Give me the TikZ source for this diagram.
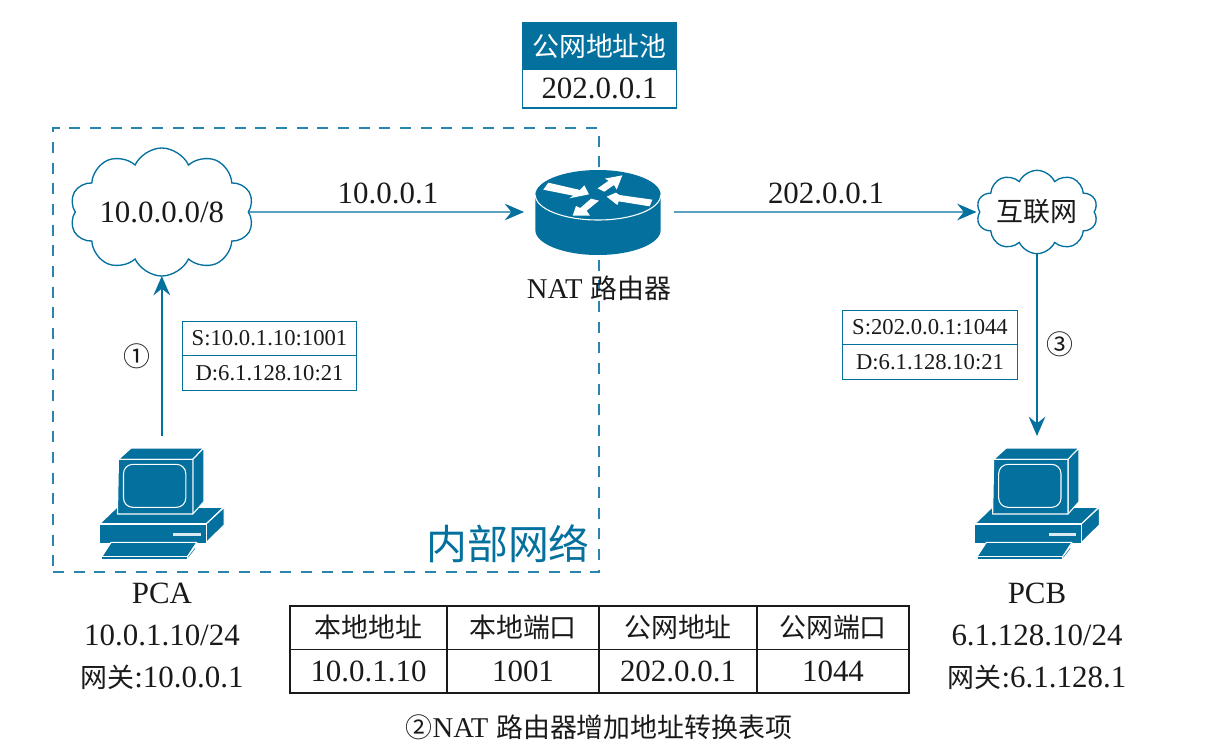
\documentclass[tikz,border=0pt]{standalone}
\usepackage{fontspec}
\usepackage{xcolor}
\usetikzlibrary{arrows.meta,positioning,shapes.symbols}
\setmainfont{Liberation Serif}
\newfontfamily\cjk[Scale=0.87]{Noto Sans CJK SC}
\definecolor{netblue}{HTML}{03709E}
\definecolor{ink}    {HTML}{1A1A1A}
\newcommand{\natname}{{\fontsize{21.5}{26}\selectfont NAT}}
\tikzset{
  flowline/.style={draw=netblue,line width=1.1pt,-{Stealth[length=14.5pt,width=12.5pt,inset=5pt]}},
  netcloud/.style={draw=netblue,line width=1pt,cloud,cloud puffs=10,cloud puff arc=130,
                   cloud ignores aspect,inner sep=0pt,outer sep=0pt,align=center},
  iconbox/.style={inner sep=0pt,outer sep=0pt},
  textlabel/.style={text=ink,font=\fontsize{23.2}{31.5}\selectfont,align=center,inner sep=0pt},
  pktbox/.style={draw=netblue,line width=0.9pt,text=ink,font=\fontsize{17}{20}\selectfont,
                 minimum width=131pt,minimum height=25.8pt,inner sep=0pt,outer sep=0pt},
  poolbox/.style={draw=netblue,line width=0.9pt,font=\fontsize{23.2}{26}\selectfont,
                  minimum width=116pt,inner sep=0pt,outer sep=0pt},
  cellbox/.style={draw=ink,line width=0.9pt,text=ink,font=\fontsize{23.2}{26}\selectfont,
                  minimum height=32.6pt,inner sep=0pt,outer sep=0pt},
  iconline/.style={fill=netblue,draw=white,line width=0.8pt,line join=round},
  pcicon/.pic={
    \begin{scope}[x=0.25pt,y=-0.25pt,shift={(-335,-216)}]
      \draw[iconline] (148,282) -- (200,232) -- (520,232) -- (468,282) -- cycle;
      \draw[iconline] (468,282) -- (522,232) -- (522,285) -- (468,338) -- cycle;
      \draw[iconline] (147,282) rectangle (468,340);
      \fill[white!85!netblue] (370,310) rectangle (452,317);
      \draw[iconline] (205,88) -- (243,54) -- (461,54) -- (428,88) -- cycle;
      \draw[iconline] (428,88) -- (461,54) -- (461,215) -- (428,252) -- cycle;
      \draw[iconline] (202,252) -- (205,88) -- (428,88) -- (428,252) -- cycle;
      \draw[white,line width=0.8pt,rounded corners=7pt] (220,103) rectangle (407,232);
      \draw[iconline] (155,380) -- (183,337) -- (440,337) -- (412,380) -- cycle;
      \draw[iconline] (412,380) -- (440,343) -- (436,358) -- (412,389) -- cycle;
      \draw[iconline] (155,380) rectangle (412,390);
    \end{scope}
  },
  routericon/.pic={
    \begin{scope}[x=0.25pt,y=-0.25pt,shift={(-207,-141)}]
      \fill[netblue] (16,90) -- (16,195) arc[start angle=180,end angle=0,x radius=188,y radius=75]
        -- (392,90) arc[start angle=0,end angle=-180,x radius=188,y radius=75] -- cycle;
      \draw[white,line width=0.8pt] (16,90) arc[start angle=180,end angle=0,x radius=188,y radius=75];
      \fill[white] (40,74) -- (55,53) -- (150,75) -- (163,61) -- (177,88) -- (118,100) -- (130,92) -- cycle;
      \fill[white] (277,31) -- (224,41) -- (236,47) -- (203,70) -- (223,80) -- (252,60) -- (260,74) -- cycle;
      \fill[white] (230,95) -- (258,83) -- (268,90) -- (367,104) -- (359,124) -- (266,109) -- (262,120) -- cycle;
      \fill[white] (128,152) -- (138,123) -- (151,129) -- (183,101) -- (207,107) -- (170,137) -- (180,152) -- cycle;
    \end{scope}
  }
}
\begin{document}
\begin{tikzpicture}[x=0.75pt,y=-0.75pt]
      \useasboundingbox (0,0) rectangle (1215,750);
      \node[draw=netblue!85,line width=0.85pt,dash pattern=on 8.2pt off 7.3pt,
            minimum width=409.5pt,minimum height=333pt,inner sep=0pt] (inner) at (326,350) {};
      \node[text=netblue,font=\fontsize{35.2}{38}\selectfont\cjk,anchor=south east,inner sep=0pt]
        (innerlabel) at (590,563) {内部网络};

      \node[netcloud,minimum width=138pt,minimum height=96pt,font=\fontsize{23.2}{26}\selectfont,text=ink]
        (lan) at (161.8,212) {10.0.0.0/8};
      \node[netcloud,minimum width=91pt,minimum height=62.5pt,font=\fontsize{23.2}{26}\selectfont\cjk,text=ink]
        (wan) at (1037,212) {互联网};

      \node[iconbox,minimum width=112.5pt,minimum height=66pt] (router) at (599,212) {};
      \pic at (router.center) {routericon};
      \node[textlabel,font=\fontsize{23.2}{26}\selectfont,below=15pt of router.south] (routerlabel)
        {\natname{} {\cjk 路由器}};

      \node[iconbox,minimum width=94pt,minimum height=99pt] (pca) at (161.8,502) {};
      \pic at (pca.center) {pcicon};
      \node[iconbox,minimum width=94pt,minimum height=99pt] (pcb) at (1037,502) {};
      \pic at (pcb.center) {pcicon};
      \node[textlabel] (pcalabel) at (162,636) {PCA\\10.0.1.10/24\\{\cjk 网关}:10.0.0.1};
      \node[textlabel] (pcblabel) at (1037,636) {PCB\\6.1.128.10/24\\{\cjk 网关}:6.1.128.1};

      \node[poolbox,fill=netblue,text=white,minimum height=34.5pt,font=\fontsize{23.2}{26}\selectfont\cjk]
        (poolhead) at (599.5,46) {公网地址池};
      \node[poolbox,text=ink,minimum height=29.2pt,below=0pt of poolhead] (poolvalue) {202.0.0.1};

      \node[pktbox] (srca) at (269.5,338.5) {S:10.0.1.10:1001};
      \node[pktbox,below=0pt of srca] (dsta) {D:6.1.128.10:21};
      \node[pktbox] (srcb) at (930,327.5) {S:202.0.0.1:1044};
      \node[pktbox,below=0pt of srcb] (dstb) {D:6.1.128.10:21};

      \draw[flowline] (pca.north) -- (lan.south);
      \draw[flowline] (lan.east) -- (router.west);
      \draw[flowline,shorten >=2.5pt] (router.east) -- (wan.west);
      \draw[flowline] (wan.south) -- (pcb.north);

      \node[textlabel] (linka) at (388,193) {10.0.0.1};
      \node[textlabel] (linkb) at (826,193) {202.0.0.1};
      \node[textlabel,font=\fontsize{23.2}{26}\selectfont\cjk] (stepa) at (137,356) {①};
      \node[textlabel,font=\fontsize{23.2}{26}\selectfont\cjk] (stepc) at (1060,344) {③};

      \node[cellbox,minimum width=117.75pt,anchor=north west,font=\fontsize{23.2}{26}\selectfont\cjk]
        (heada) at (290,606) {本地地址};
      \node[cellbox,minimum width=114pt,font=\fontsize{23.2}{26}\selectfont\cjk,right=0pt of heada] (headb) {本地端口};
      \node[cellbox,minimum width=118.5pt,font=\fontsize{23.2}{26}\selectfont\cjk,right=0pt of headb] (headc) {公网地址};
      \node[cellbox,minimum width=114pt,font=\fontsize{23.2}{26}\selectfont\cjk,right=0pt of headc] (headd) {公网端口};
      \node[cellbox,minimum width=117.75pt,below=0pt of heada] (vala) {10.0.1.10};
      \node[cellbox,minimum width=114pt,below=0pt of headb] (valb) {1001};
      \node[cellbox,minimum width=118.5pt,below=0pt of headc] (valc) {202.0.0.1};
      \node[cellbox,minimum width=114pt,below=0pt of headd] (vald) {1044};
      \node[textlabel,font=\fontsize{23.2}{26}\selectfont] (caption) at (599,727)
        {{\cjk ②}\natname{} {\cjk 路由器增加地址转换表项}};
    \end{tikzpicture}
\end{document}
